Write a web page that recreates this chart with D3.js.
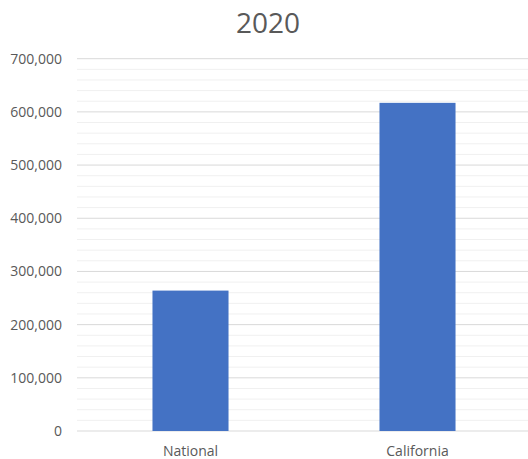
<!DOCTYPE html>
<meta charset="utf-8">
<style>
body { margin: 0; background: #fff; }
.chart text { fill: #595959; font-family: "Open Sans", sans-serif; }
</style>
<svg class="chart" width="528" height="459"></svg>
<script src="https://cdn.jsdelivr.net/npm/d3@7"></script>
<script>

let categories = ["National", "California"];
let values = [264000, 617000];
let yTicks = [0, 100000, 200000, 300000, 400000, 500000, 600000, 700000];

let svg = d3.select(".chart");

let plotLeft = 77, plotRight = 531, plotTop = 58.7, plotBottom = 431;

let x = d3.scaleBand()
    .domain(categories)
    .range([plotLeft, plotRight])
    .paddingInner(0.665)
    .paddingOuter(0.3325);

let y = d3.scaleLinear()
    .domain([0, 700000])
    .range([plotBottom, plotTop]);

// minor gridlines every 20,000
let minor = d3.range(0, 700001, 20000).filter(v => v % 100000 !== 0);
svg.selectAll(".minor")
    .data(minor)
  .enter().append("line")
    .attr("x1", plotLeft).attr("x2", 528)
    .attr("y1", d => y(d)).attr("y2", d => y(d))
    .attr("stroke", "#f0f0f0")
    .attr("stroke-width", 1);

svg.selectAll(".major")
    .data(yTicks)
  .enter().append("line")
    .attr("x1", plotLeft).attr("x2", 528)
    .attr("y1", d => y(d)).attr("y2", d => y(d))
    .attr("stroke", "#d9d9d9")
    .attr("stroke-width", 1);

svg.selectAll(".ylab")
    .data(yTicks)
  .enter().append("text")
    .attr("x", 62)
    .attr("y", d => y(d))
    .attr("dy", ".35em")
    .attr("text-anchor", "end")
    .style("font-size", "14px")
    .text(d => d3.format(",")(d));

svg.selectAll(".bar")
    .data(values)
  .enter().append("rect")
    .attr("x", (d, i) => x(categories[i]))
    .attr("width", x.bandwidth())
    .attr("y", d => y(d))
    .attr("height", d => plotBottom - y(d))
    .attr("fill", "#4472c4");

svg.selectAll(".xlab")
    .data(categories)
  .enter().append("text")
    .attr("x", d => x(d) + x.bandwidth() / 2)
    .attr("y", 451)
    .attr("dy", ".35em")
    .attr("text-anchor", "middle")
    .style("font-size", "14px")
    .text(d => d);

svg.append("text")
    .attr("x", 268)
    .attr("y", 23)
    .attr("dy", ".35em")
    .attr("text-anchor", "middle")
    .style("font-size", "28px")
    .text("2020");

</script>
